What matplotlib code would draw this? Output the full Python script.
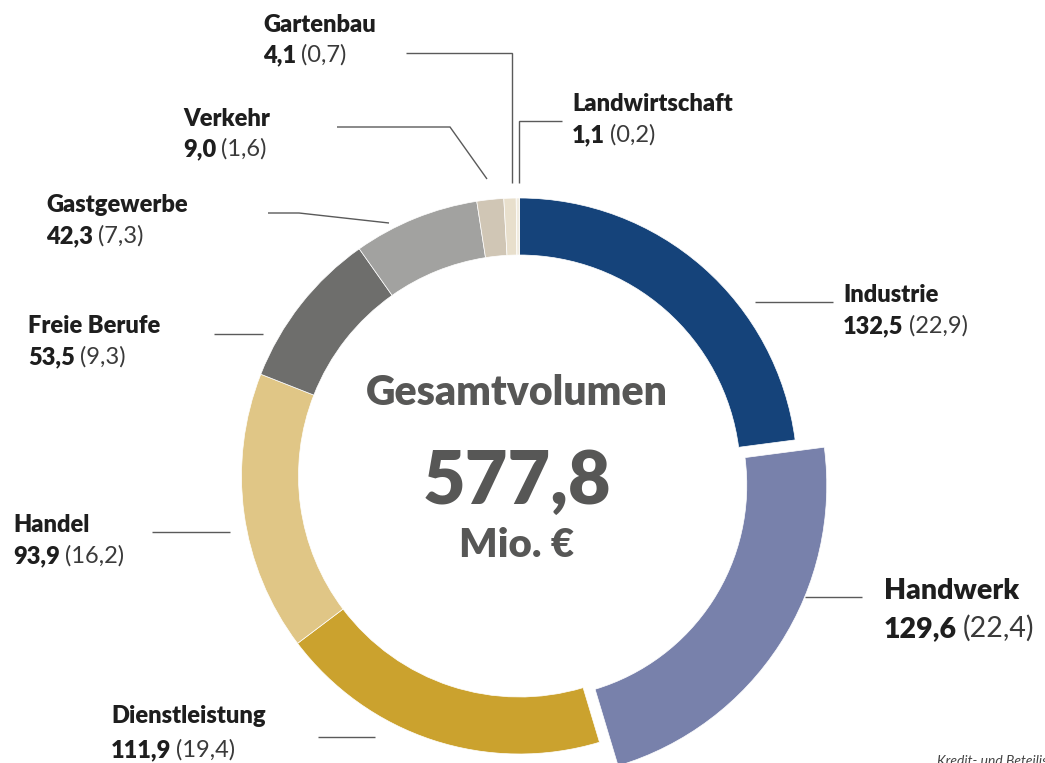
import matplotlib
matplotlib.use('Agg')
import matplotlib.pyplot as plt

# ---- data ----
categories = ['Industrie', 'Handwerk', 'Dienstleistung', 'Handel', 'Freie Berufe',
              'Gastgewerbe', 'Verkehr', 'Gartenbau', 'Landwirtschaft']
values = [132.5, 129.6, 111.9, 93.9, 53.5, 42.3, 9.0, 4.1, 1.1]
shares = [22.9, 22.4, 19.4, 16.2, 9.3, 7.3, 1.6, 0.7, 0.2]
total_title = 'Gesamtvolumen'
total_value = '577,8'
total_unit = 'Mio. €'
highlight = 'Handwerk'

colors = ['#15437a', '#7881ab', '#cba22e', '#e0c686', '#6e6e6c',
          '#a2a2a0', '#d0c6b5', '#e8dfcc', '#f1ece0']

# ---- layout (pixels) ----
W, H = 1045, 763
CX, CY, R = 519.5, 476.0, 278.0
FONT = ['Lato', 'DejaVu Sans']
DARK = '#1e1e1e'
LINE = '#5a5a5a'
CENTER = '#575756'
BOLD = 'heavy'


def P(x, y):
    return ((x - CX) / R, (CY - y) / R)


fig = plt.figure(figsize=(W / 100, H / 100), dpi=100)
ax = fig.add_axes([0, 0, 1, 1])

explode = [17 / R if c == highlight else 0 for c in categories]
wedges, _ = ax.pie(values, colors=colors, startangle=90, counterclock=False,
                   explode=explode, radius=1.0,
                   wedgeprops=dict(width=57 / R, edgecolor='white', linewidth=0.5))
hw = wedges[categories.index(highlight)]
hw.set_radius(293 / R)
hw.set_width(80 / R)

ax.set_aspect('auto')
ax.set_xlim(-CX / R, (W - CX) / R)
ax.set_ylim((CY - H) / R, CY / R)
ax.axis('off')

renderer = fig.canvas.get_renderer()

# label layout: x, baseline of name, baseline of value, font size
label_pos = {
    'Industrie': (843, 302, 333, 17),
    'Handwerk': (884, 599, 637, 20.5),
    'Dienstleistung': (111, 723, 757, 17),
    'Handel': (13, 532, 563, 17),
    'Freie Berufe': (28, 333, 364, 17),
    'Gastgewerbe': (46, 212, 243, 17),
    'Verkehr': (183, 126, 156, 17),
    'Gartenbau': (263, 32, 62, 17),
    'Landwirtschaft': (572, 111, 142, 17),
}

leaders = {
    'Industrie': [(755, 302), (833, 302)],
    'Handwerk': [(805, 597), (862, 597)],
    'Dienstleistung': [(318, 737), (375, 737)],
    'Handel': [(152, 532), (230, 532)],
    'Freie Berufe': [(214, 334), (263, 334)],
    'Gastgewerbe': [(268, 213), (299, 213), (389, 223)],
    'Verkehr': [(337, 127), (450, 127), (487, 179)],
    'Gartenbau': [(406, 53), (512, 53), (512, 183)],
    'Landwirtschaft': [(562, 121), (519, 121), (519, 183)],
}


def fmt(v):
    return f'{v:.1f}'.replace('.', ',')


for cat, val, sh in zip(categories, values, shares):
    x, yn, yv, fs = label_pos[cat]
    ax.text(*P(x, yn), cat, fontsize=fs, fontweight=BOLD, color=DARK,
            family=FONT, ha='left', va='baseline')
    t = ax.text(*P(x, yv), fmt(val), fontsize=fs, fontweight=BOLD, color=DARK,
                family=FONT, ha='left', va='baseline')
    bb = t.get_window_extent(renderer)
    ax.text(*P(bb.x1 + fs * 0.3, yv), f'({fmt(sh)})', fontsize=fs, fontweight='normal',
            color='#3a3a3a', family=FONT, ha='left', va='baseline')
    pts = [P(px, py) for px, py in leaders[cat]]
    ax.plot([p[0] for p in pts], [p[1] for p in pts], color=LINE, lw=1.0,
            solid_capstyle='butt', solid_joinstyle='miter')

# centre text
ax.text(*P(517, 405), total_title, fontsize=29.5, fontweight=BOLD, color=CENTER,
        family=FONT, ha='center', va='baseline')
ax.text(*P(517, 504), total_value, fontsize=53, fontweight=BOLD, color=CENTER,
        family=FONT, ha='center', va='baseline')
ax.text(*P(517, 557), total_unit, fontsize=29, fontweight=BOLD, color=CENTER,
        family=FONT, ha='center', va='baseline')

# footnote cut off at the bottom right edge, as in the reference
ax.text(*P(937, 765), 'Kredit- und Beteiligungsgesellschaften', fontsize=10,
        style='italic', color='#444444', family=FONT, ha='left', va='baseline')

fig.savefig('out.png', dpi=100)
